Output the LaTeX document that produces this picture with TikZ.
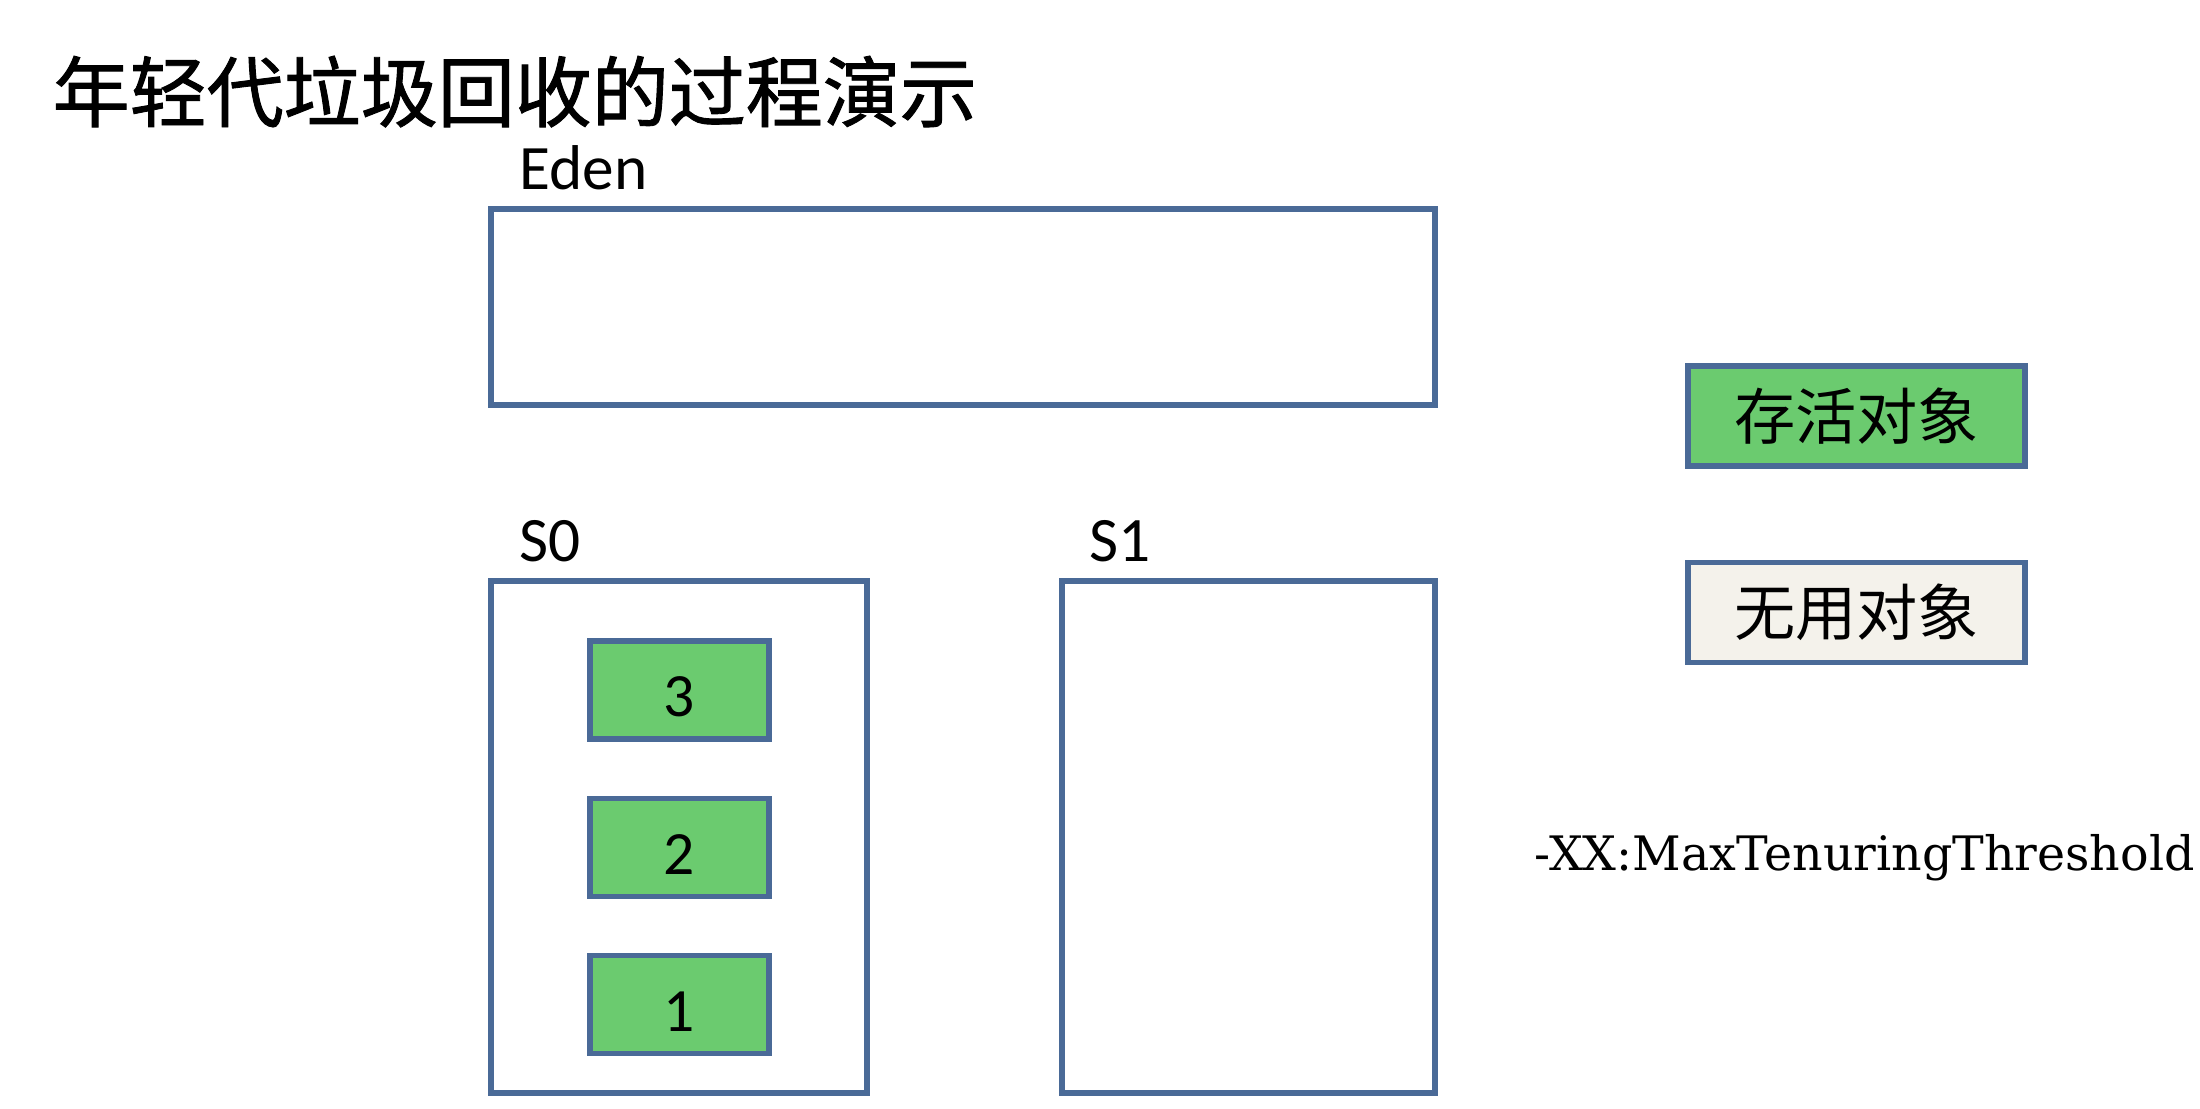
\documentclass[tikz,border=0pt]{standalone}
\usepackage{fontspec}
\setmainfont{Carlito}
\newfontfamily\cjk{Noto Sans CJK SC}
\newfontfamily\cjktitle[FakeBold=1.2]{Noto Sans CJK SC}
\newfontfamily\optfont{DejaVu Serif}
\definecolor{edge}{HTML}{4A6A97}
\definecolor{livegreen}{HTML}{6BCB6F}
\definecolor{deadgray}{HTML}{F4F2EB}

\begin{document}
\begin{tikzpicture}[x=0.01cm, y=-0.01cm,
    area/.style={draw=edge, line width=1.6pt, fill=white, inner sep=0pt},
    live/.style={area, fill=livegreen},
    dead/.style={area, fill=deadgray},
    lbl/.style={anchor=base west, inner sep=0pt, font=\fontsize{18pt}{20pt}\selectfont}]
    \useasboundingbox (0,0) rectangle (2200,1108);
    % title
    \node[anchor=base west, inner sep=0pt, font=\cjktitle\fontsize{21.9pt}{26pt}\selectfont] (title) at (52,121) {年轻代垃圾回收的过程演示};
    % heap regions
    \node[area, minimum width=9.44cm, minimum height=1.96cm] (eden) at (963,307) {};
    \node[area, minimum width=3.76cm, minimum height=5.12cm] (s0) at (679,837) {};
    \node[area, minimum width=3.73cm, minimum height=5.12cm] (s1) at (1248.5,837) {};
    \node[lbl] at (519,189) {Eden};
    \node[lbl] at (519,561) {S0};
    \node[lbl] at (1089,561) {S1};
    % surviving objects in S0
    \foreach \n/\y in {3/690, 2/847.5, 1/1004.5}
        \node[live, minimum width=1.79cm, minimum height=0.98cm, text height=0.53cm, text depth=0pt,
              font=\fontsize{17.5pt}{20pt}\selectfont] (obj\n) at (679.5,\y) {\n};
    % legend
    \node[live, minimum width=3.37cm, minimum height=1.0cm, font=\cjk\fontsize{17.4pt}{20pt}\selectfont] (legLive) at (1856.5,416) {存活对象};
    \node[dead, minimum width=3.37cm, minimum height=1.0cm, font=\cjk\fontsize{17.4pt}{20pt}\selectfont] (legDead) at (1856.5,612.5) {无用对象};
    \node[anchor=base west, inner sep=0pt, font=\optfont\fontsize{13.5pt}{15pt}\selectfont] (opt) at (1534,870) {-XX:MaxTenuringThreshold};
\end{tikzpicture}
\end{document}
